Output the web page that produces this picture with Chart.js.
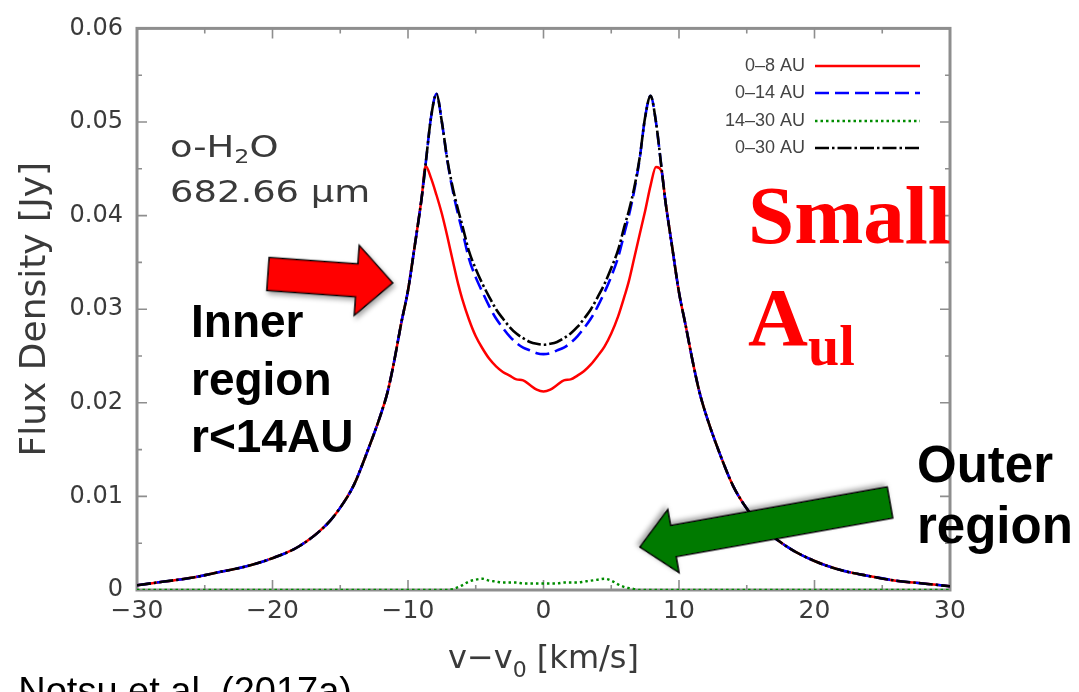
<!DOCTYPE html>
<html>
<head>
<meta charset="utf-8">
<script src="https://cdn.jsdelivr.net/npm/chart.js@4.4.1/dist/chart.umd.min.js"></script>
<style>
  html, body { margin: 0; padding: 0; background: #ffffff; }
  #wrap { position: relative; width: 1079px; height: 692px; overflow: hidden; background: #ffffff; }
  #plot { position: absolute; left: 0; top: 0; filter: blur(0.6px); }
  #notes { position: absolute; left: 0; top: 0; }
</style>
</head>
<body>
<div id="wrap">
  <canvas id="plot" width="1079" height="692"></canvas>
  <svg id="notes" width="1079" height="692" viewBox="0 0 1079 692" xmlns="http://www.w3.org/2000/svg">
    <defs>
      <filter id="shadow" x="-20%" y="-40%" width="150%" height="200%">
        <feDropShadow dx="2" dy="3" stdDeviation="2.5" flood-color="#000" flood-opacity="0.35"/>
      </filter>
    </defs>
    <!-- arrow towards the inner-disk wing -->
    <g transform="translate(268,274) rotate(4.1)">
      <polygon points="0,-16.5 89,-16.5 89,-35 125,0 89,35 89,16.5 0,16.5"
               fill="#ff0000" stroke="#000" stroke-width="1.5" stroke-linejoin="miter" filter="url(#shadow)"/>
    </g>
    <!-- arrow towards the outer-disk contribution -->
    <g transform="translate(890,502.5) rotate(169.9)">
      <polygon points="0,-15.8 220,-15.8 220,-32 254,0 220,32 220,15.8 0,15.8"
               fill="#007a00" stroke="#000" stroke-width="1.5" stroke-linejoin="miter" filter="url(#shadow)"/>
    </g>
    <g font-family="Liberation Sans, Arial, Helvetica, sans-serif" font-weight="bold" fill="#000">
      <text x="191" y="337" font-size="46">Inner</text>
      <text x="191" y="395" font-size="46">region</text>
      <text x="191" y="452" font-size="46">r&lt;14AU</text>
      <text x="917" y="482" font-size="51">Outer</text>
      <text x="917" y="543" font-size="51">region</text>
    </g>
    <g font-family="Liberation Serif, Times New Roman, serif" font-weight="bold" fill="#ff0000">
      <text x="748" y="243" font-size="83">Small</text>
      <text x="748" y="345" font-size="83">A</text>
      <text x="808" y="365" font-size="56">ul</text>
    </g>
    <text x="352" y="704" text-anchor="end" font-family="Liberation Sans, Arial, Helvetica, sans-serif" font-size="38" fill="#000">Notsu et al. (2017a)</text>
  </svg>
</div>
<script>
// Line profile of the o-H2O 682.66 um line for different disk radii.
const velocity = [
  -30, -28, -26, -24, -22, -20, -18, -16, -15, -14, -13, -12, -11.5, -11, -10.5, -10,
  -9.5, -9, -8.7, -8.3, -7.9, -7.5, -7.1, -6.7, -6.3, -6, -5.5, -5, -4.5, -4, -3.5, -3,
  -2.5, -2, -1.5, -1, -0.5, 0, 0.5, 1, 1.5, 2, 2.5, 3, 3.5, 4, 4.5, 5, 5.5, 6, 6.3, 6.7,
  7.1, 7.5, 7.9, 8.3, 8.7, 9, 9.5, 10, 10.5, 11, 11.5, 12, 13, 14, 15, 16, 18, 20, 22,
  24, 26, 28, 30
];

// 0-30 AU (whole disk)
const flux0to30 = [
  0.0005, 0.0009, 0.0013, 0.0019, 0.0025, 0.0034, 0.0047, 0.0070, 0.0088, 0.0112, 0.0148, 0.0188, 0.0212, 0.0246, 0.0285, 0.0320,
  0.0368, 0.0418, 0.0455, 0.0505, 0.0530, 0.0500, 0.0460, 0.0430, 0.0406, 0.0390, 0.0362, 0.0343, 0.0327, 0.0313, 0.0300, 0.0290,
  0.0281, 0.0274, 0.0269, 0.0265, 0.0263, 0.0262, 0.0263, 0.0265, 0.0269, 0.0274, 0.0281, 0.0290, 0.0300, 0.0313, 0.0327, 0.0344, 0.0363, 0.0390, 0.0405, 0.0430,
  0.0462, 0.0505, 0.0528, 0.0500, 0.0452, 0.0415, 0.0366, 0.0318, 0.0282, 0.0245, 0.0212, 0.0187, 0.0146, 0.0111, 0.0087, 0.0069, 0.0046, 0.0031, 0.0021,
  0.0015, 0.0010, 0.0007, 0.0004
];

// 0-14 AU
const flux0to14 = [
  0.0005, 0.0009, 0.0013, 0.0019, 0.0025, 0.0034, 0.0047, 0.0070, 0.0088, 0.0112, 0.0148, 0.0188, 0.0212, 0.0246, 0.0285, 0.0320,
  0.0368, 0.0418, 0.0455, 0.0505, 0.0530, 0.0500, 0.0459, 0.0427, 0.0401, 0.0384, 0.0354, 0.0334, 0.0318, 0.0303, 0.0290, 0.0280,
  0.0271, 0.0264, 0.0259, 0.0256, 0.0253, 0.0252, 0.0253, 0.0256, 0.0259, 0.0264, 0.0271, 0.0280, 0.0290, 0.0303, 0.0318, 0.0335, 0.0355, 0.0383, 0.0400, 0.0427,
  0.0461, 0.0505, 0.0528, 0.0500, 0.0452, 0.0415, 0.0366, 0.0318, 0.0282, 0.0245, 0.0212, 0.0187, 0.0146, 0.0111, 0.0087, 0.0069, 0.0046, 0.0031, 0.0021,
  0.0015, 0.0010, 0.0007, 0.0004
];

// 14-30 AU
const flux14to30 = [
  0, 0, 0, 0, 0, 0, 0, 0, 0, 0, 0, 0, 0, 0, 0, 0,
  0, 0, 0, 0, 0, 0, 0, 0.0001, 0.0003, 0.0005, 0.0009, 0.0011, 0.0012, 0.0010, 0.0009, 0.0008,
  0.0008, 0.0008, 0.0007, 0.0007, 0.0007, 0.0007, 0.0007, 0.0007, 0.0008, 0.0008, 0.0008, 0.0009, 0.0010, 0.0011, 0.0012, 0.0010, 0.0006, 0.0003, 0.0002, 0.0001,
  0, 0, 0, 0, 0, 0, 0, 0, 0, 0, 0, 0, 0, 0, 0, 0, 0, 0, 0,
  0, 0, 0, 0
];

// 0-8 AU
const flux0to8 = [
  0.0005, 0.0009, 0.0013, 0.0019, 0.0025, 0.0034, 0.0047, 0.0070, 0.0088, 0.0112, 0.0148, 0.0188, 0.0212, 0.0246, 0.0285, 0.0320,
  0.0368, 0.0418, 0.0453, 0.0440, 0.0422, 0.0402, 0.0378, 0.0352, 0.0327, 0.0311, 0.0289, 0.0271, 0.0258, 0.0247, 0.0239, 0.0233,
  0.0229, 0.0225, 0.0224, 0.0219, 0.0214, 0.0212, 0.0214, 0.0219, 0.0224, 0.0225, 0.0229, 0.0234, 0.0241, 0.0250, 0.0260, 0.0274, 0.0292, 0.0315, 0.0330, 0.0355,
  0.0380, 0.0405, 0.0432, 0.0452, 0.0448, 0.0415, 0.0366, 0.0318, 0.0282, 0.0245, 0.0212, 0.0187, 0.0146, 0.0111, 0.0087, 0.0069, 0.0046, 0.0031, 0.0021,
  0.0015, 0.0010, 0.0007, 0.0004
];

const seriesLabels = ['0\u20138 AU', '0\u201314 AU', '14\u201330 AU', '0\u201330 AU'];
const xTickLabels = ['\u221230', '\u221220', '\u221210', '0', '10', '20', '30'];
const yTickLabels = ['0', '0.01', '0.02', '0.03', '0.04', '0.05', '0.06'];

const toPoints = (vals) => velocity.map((v, i) => ({ x: v, y: vals[i] }));

const AXIS_GREY = '#8e8e8e';
const TEXT_GREY = '#3a3a3a';

// Closed gnuplot-style frame with inward major/minor ticks on all four sides.
const framePlugin = {
  id: 'frame',
  beforeDatasetsDraw(chart) {
    const { ctx, chartArea: a, scales: { x, y } } = chart;
    ctx.save();
    ctx.strokeStyle = AXIS_GREY;
    ctx.lineWidth = 1.6;
    for (let v = -30; v <= 30; v += 5) {
      const px = x.getPixelForValue(v);
      const len = (v % 10 === 0) ? 10 : 5;
      ctx.beginPath();
      ctx.moveTo(px, a.bottom); ctx.lineTo(px, a.bottom - len);
      ctx.moveTo(px, a.top); ctx.lineTo(px, a.top + len);
      ctx.stroke();
    }
    for (let k = 0; k <= 12; k++) {
      const py = y.getPixelForValue(k * 0.005);
      const len = (k % 2 === 0) ? 10 : 5;
      ctx.beginPath();
      ctx.moveTo(a.left, py); ctx.lineTo(a.left + len, py);
      ctx.moveTo(a.right, py); ctx.lineTo(a.right - len, py);
      ctx.stroke();
    }
    ctx.lineWidth = 3;
    ctx.strokeRect(a.left, a.top, a.right - a.left, a.bottom - a.top);
    ctx.restore();
  },
  afterDatasetsDraw(chart) {
    const { ctx, chartArea: a } = chart;

    // x-axis title with a true subscript
    ctx.save();
    ctx.fillStyle = TEXT_GREY;
    ctx.textBaseline = 'alphabetic';
    const mainFont = '32px "DejaVu Sans"';
    const subFont = '22px "DejaVu Sans"';
    ctx.font = mainFont;
    const w1 = ctx.measureText('v\u2212v').width;
    const w3 = ctx.measureText(' [km/s]').width;
    ctx.font = subFont;
    const w2 = ctx.measureText('0').width;
    let tx = (a.left + a.right) / 2 - (w1 + w2 + w3) / 2;
    const base = 668;
    ctx.font = mainFont;
    ctx.fillText('v\u2212v', tx, base); tx += w1;
    ctx.font = subFont;
    ctx.fillText('0', tx, base + 9); tx += w2;
    ctx.font = mainFont;
    ctx.fillText(' [km/s]', tx, base);
    ctx.restore();

    // line identification
    ctx.save();
    ctx.fillStyle = TEXT_GREY;
    ctx.textBaseline = 'alphabetic';
    ctx.translate(170, 157);
    ctx.scale(1.19, 1);
    ctx.font = '31px "DejaVu Sans"';
    let cx = 0;
    ctx.fillText('o-H', cx, 0); cx += ctx.measureText('o-H').width;
    ctx.font = '20px "DejaVu Sans"';
    ctx.fillText('2', cx, 6); cx += ctx.measureText('2').width;
    ctx.font = '31px "DejaVu Sans"';
    ctx.fillText('O', cx, 0);
    ctx.fillText('682.66 \u00b5m', 0, 45);
    ctx.restore();

    // legend: label on the left, line sample on the right
    ctx.save();
    const rows = [66, 93, 121, 148];
    chart.data.datasets.forEach((ds, i) => {
      const yy = rows[i];
      ctx.font = '18px "Liberation Sans"';
      ctx.fillStyle = '#444444';
      ctx.textAlign = 'right';
      ctx.textBaseline = 'middle';
      ctx.fillText(ds.label, 805, yy);
      ctx.strokeStyle = ds.borderColor;
      ctx.lineWidth = ds.borderWidth;
      ctx.setLineDash(ds.borderDash || []);
      ctx.beginPath();
      ctx.moveTo(815, yy); ctx.lineTo(920, yy);
      ctx.stroke();
    });
    ctx.restore();
  }
};

new Chart(document.getElementById('plot'), {
  type: 'line',
  data: {
    datasets: [
      { label: seriesLabels[0], data: toPoints(flux0to8), borderColor: '#ff0000', borderWidth: 2.5, borderDash: [], order: 3 },
      { label: seriesLabels[1], data: toPoints(flux0to14), borderColor: '#0000ff', borderWidth: 2.6, borderDash: [14, 6], order: 2 },
      { label: seriesLabels[2], data: toPoints(flux14to30), borderColor: '#008c00', borderWidth: 2.4, borderDash: [2.5, 3], order: 1 },
      { label: seriesLabels[3], data: toPoints(flux0to30), borderColor: '#000000', borderWidth: 2.6, borderDash: [14, 3, 2.5, 3], order: 0 }
    ]
  },
  options: {
    responsive: false,
    animation: false,
    devicePixelRatio: 1,
    layout: { padding: { left: 0, right: 129, top: 24, bottom: 0 } },
    elements: {
      point: { radius: 0 },
      line: { cubicInterpolationMode: 'monotone', fill: false }
    },
    plugins: {
      legend: { display: false },
      tooltip: { enabled: false }
    },
    scales: {
      x: {
        type: 'linear',
        min: -30, max: 30,
        grid: { display: false, drawTicks: false },
        border: { display: false },
        afterFit: (s) => { s.height = 102; },
        ticks: {
          stepSize: 10,
          autoSkip: false,
          maxRotation: 0,
          padding: 6,
          color: TEXT_GREY,
          font: { family: 'DejaVu Sans', size: 25 },
          callback: (v, i) => xTickLabels[i]
        },
        title: { display: false }
      },
      y: {
        type: 'linear',
        min: 0, max: 0.06,
        grid: { display: false, drawTicks: false },
        border: { display: false },
        afterFit: (s) => { s.width = 137; },
        ticks: {
          stepSize: 0.01,
          padding: 14,
          color: TEXT_GREY,
          font: { family: 'DejaVu Sans', size: 24 },
          callback: (v, i) => yTickLabels[i]
        },
        title: {
          display: true,
          text: 'Flux Density [Jy]',
          color: TEXT_GREY,
          font: { family: 'DejaVu Sans', size: 36 },
          padding: { top: 14, bottom: 0 }
        }
      }
    }
  },
  plugins: [framePlugin]
});
</script>
</body>
</html>
